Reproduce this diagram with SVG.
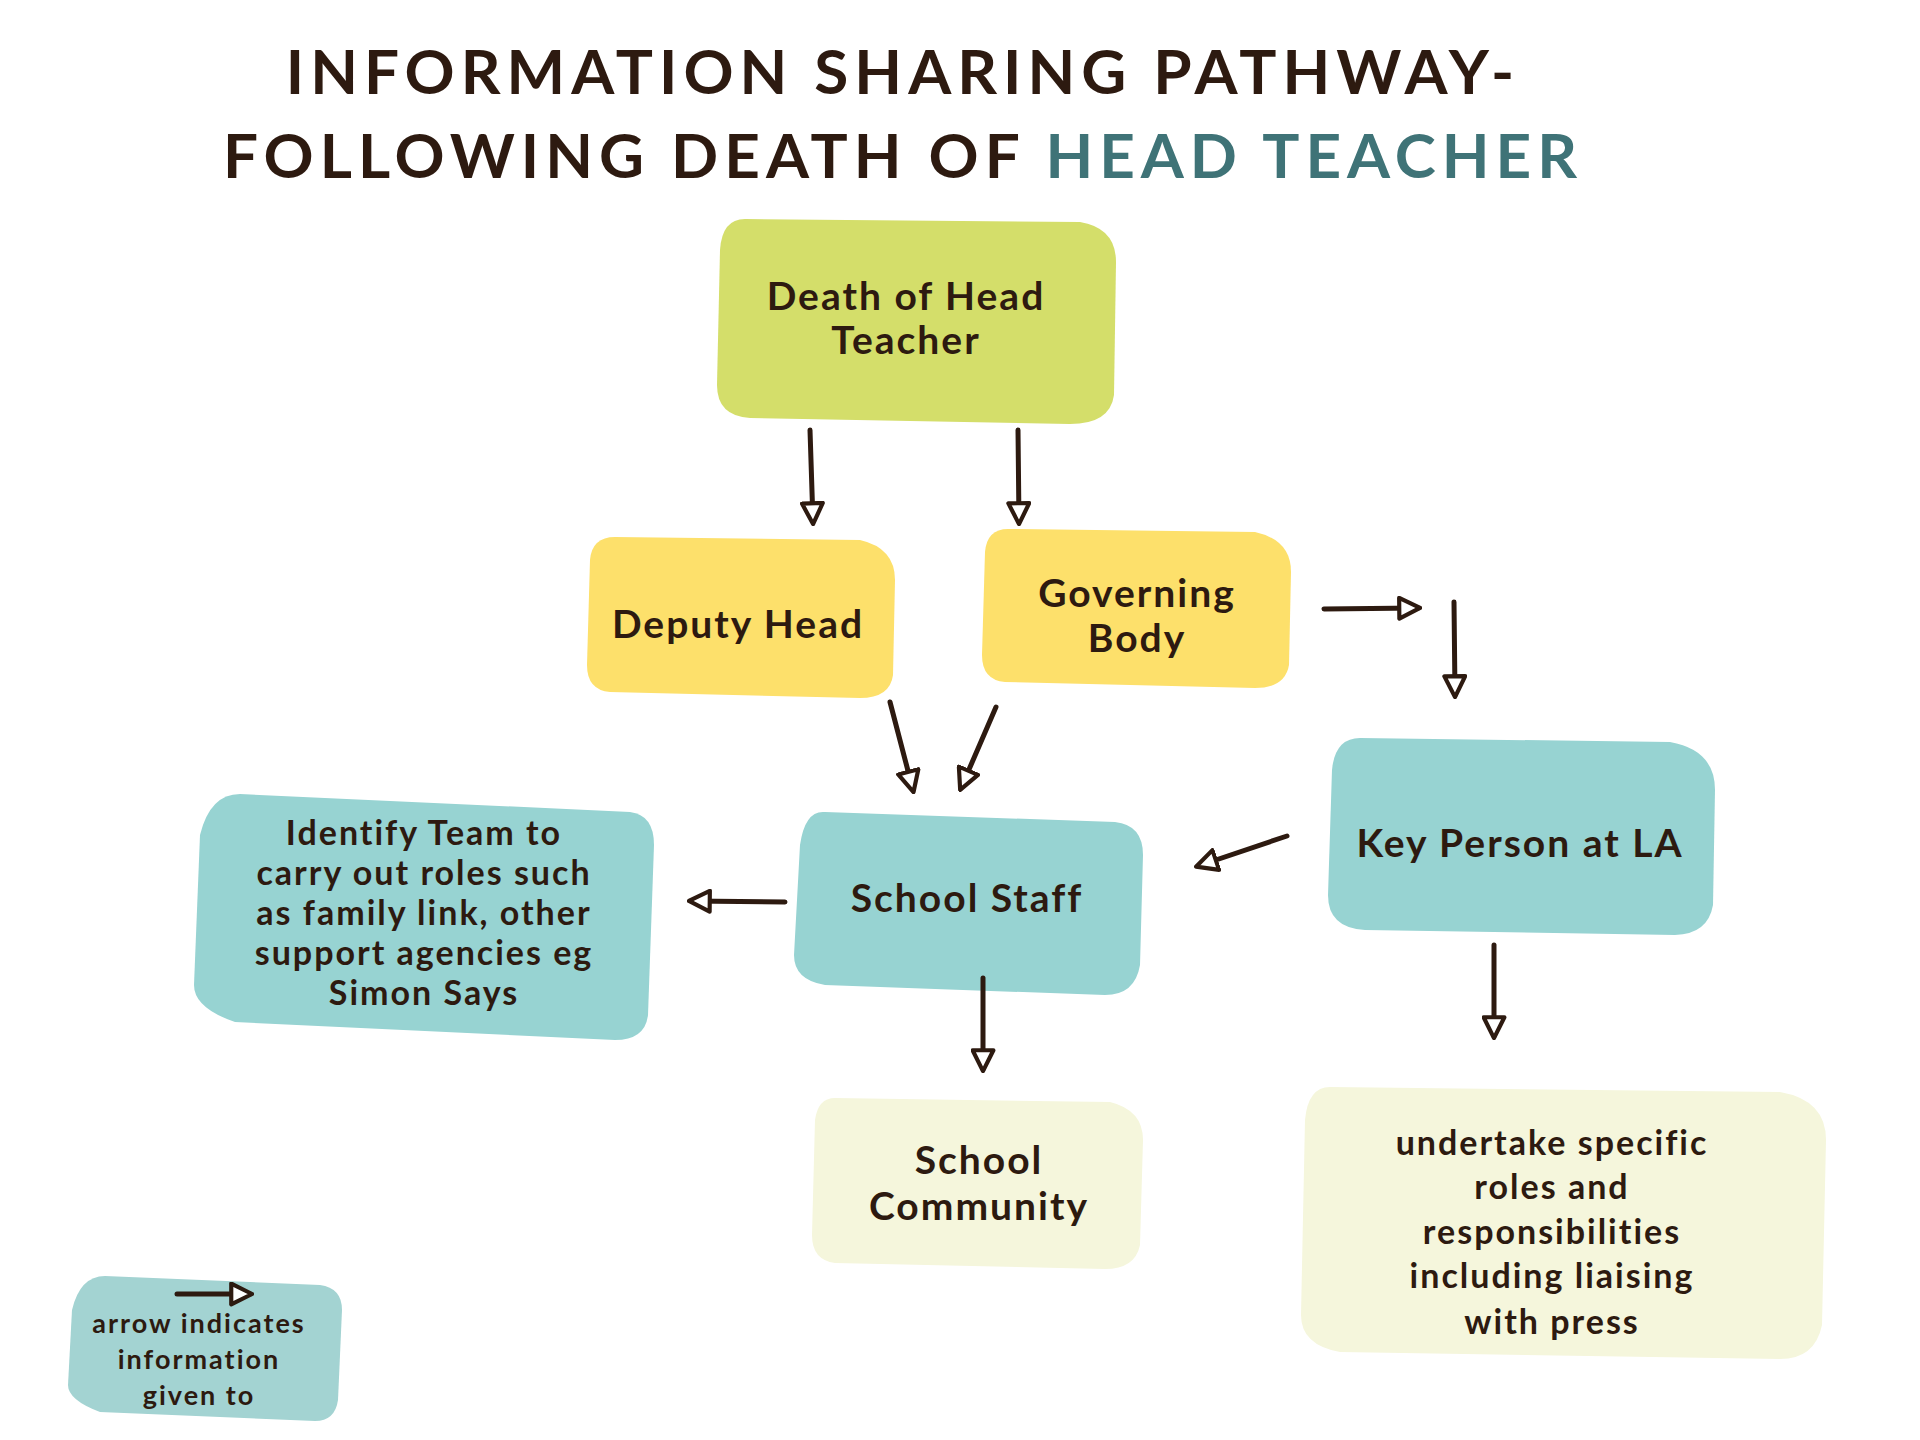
<svg xmlns="http://www.w3.org/2000/svg" width="1920" height="1440" viewBox="0 0 1920 1440">
<defs>
<marker id="ah" viewBox="0 0 12 12" refX="10" refY="6" markerWidth="5" markerHeight="5" orient="auto" markerUnits="strokeWidth">
<path d="M1,1 L11,6 L1,11 Z" fill="#fff" stroke="#2d1a10" stroke-width="2" stroke-linejoin="round"/>
</marker>
<style>
.t{font-family:"Lato","DejaVu Sans",sans-serif;font-weight:bold;fill:#2d1a10;text-anchor:middle;letter-spacing:2px}
.n{font-size:39px}
.s{font-size:34px}
.l{font-size:27px}
.c line{stroke:#2d1a10;stroke-width:5;stroke-linecap:round;marker-end:url(#ah)}
</style>
</defs>
<rect width="1920" height="1440" fill="#fff"/>
<g id="title" class="t" style="font-size:62px;letter-spacing:6px">
<text x="903" y="94">INFORMATION SHARING PATHWAY-</text>
<text x="903" y="178">FOLLOWING DEATH OF <tspan fill="#3f7377">HEAD TEACHER</tspan></text>
</g>
<g id="death"><path d="M745,219 L1080,222 Q1116,228 1116,262 L1114,395 Q1110,424 1070,424 L750,418 Q717,416 717,385 L720,250 Q722,219 745,219 Z" fill="#d4de6a"/>
<text class="t n" x="906" y="310">Death of Head</text><text class="t n" x="906" y="354">Teacher</text></g>
<g id="deputy"><path d="M615,537 L860,540 Q895,548 895,580 L893,675 Q890,698 860,698 L610,692 Q587,690 587,665 L590,560 Q592,537 615,537 Z" fill="#fde06b"/>
<text class="t n" x="738" y="638">Deputy Head</text></g>
<g id="governing"><path d="M1008,529 L1255,532 Q1291,540 1291,572 L1289,665 Q1285,688 1255,688 L1005,682 Q982,680 982,655 L985,552 Q987,529 1008,529 Z" fill="#fde06b"/>
<text class="t n" x="1137" y="607">Governing</text><text class="t n" x="1137" y="652">Body</text></g>
<g id="keyperson"><path d="M1360,738 L1670,742 Q1715,750 1715,790 L1713,905 Q1708,934 1675,935 L1365,930 Q1328,928 1328,895 L1332,770 Q1335,738 1360,738 Z" fill="#97d3d2"/>
<text class="t n" x="1520" y="857">Key Person at LA</text></g>
<g id="staff"><path d="M825,812 L1115,822 Q1143,825 1143,855 L1140,965 Q1135,995 1105,995 L825,985 Q794,980 794,955 L800,845 Q805,810 825,812 Z" fill="#97d3d2"/>
<text class="t n" x="967" y="912">School Staff</text></g>
<g id="identify"><path d="M240,794 L630,812 Q654,815 654,845 L648,1015 Q645,1040 615,1040 L235,1022 Q194,1008 194,985 L200,835 Q210,794 240,794 Z" fill="#97d3d2"/>
<text class="t s" x="424" y="845">Identify Team to</text><text class="t s" x="424" y="885">carry out roles such</text><text class="t s" x="424" y="925">as family link, other</text><text class="t s" x="424" y="965">support agencies eg</text><text class="t s" x="424" y="1005">Simon Says</text></g>
<g id="community"><path d="M835,1098 L1110,1102 Q1143,1110 1143,1140 L1140,1245 Q1135,1269 1105,1269 L835,1263 Q812,1260 812,1235 L815,1120 Q818,1098 835,1098 Z" fill="#f5f6dc"/>
<text class="t n" x="979" y="1174">School</text><text class="t n" x="979" y="1220">Community</text></g>
<g id="undertake"><path d="M1330,1087 L1780,1092 Q1826,1100 1826,1140 L1822,1325 Q1815,1359 1780,1359 L1340,1352 Q1301,1345 1301,1315 L1305,1120 Q1308,1087 1330,1087 Z" fill="#f5f6dc"/>
<text class="t s" x="1552" y="1155">undertake specific</text><text class="t s" x="1552" y="1199">roles and</text><text class="t s" x="1552" y="1244">responsibilities</text><text class="t s" x="1552" y="1288">including liaising</text><text class="t s" x="1552" y="1334">with press</text></g>
<g id="legend"><path d="M105,1276 L320,1285 Q342,1288 342,1310 L338,1400 Q335,1421 315,1421 L100,1412 Q68,1400 68,1385 L72,1310 Q80,1276 105,1276 Z" fill="#a3d3d2"/>
<text class="t l" x="199" y="1333">arrow indicates</text><text class="t l" x="199" y="1369">information</text><text class="t l" x="199" y="1405">given to</text></g>
<g id="connectors" class="c">
<line x1="810" y1="430" x2="813" y2="522"/>
<line x1="1018" y1="430" x2="1019" y2="522"/>
<line x1="1324" y1="609" x2="1418" y2="608"/>
<line x1="1454" y1="602" x2="1455" y2="695"/>
<line x1="890" y1="702" x2="913" y2="790"/>
<line x1="996" y1="707" x2="961" y2="788"/>
<line x1="1287" y1="836" x2="1198" y2="866"/>
<line x1="785" y1="902" x2="691" y2="901"/>
<line x1="983" y1="978" x2="983" y2="1069"/>
<line x1="1494" y1="945" x2="1494" y2="1036"/>
<line x1="177" y1="1294" x2="250" y2="1294"/>
</g>
</svg>
